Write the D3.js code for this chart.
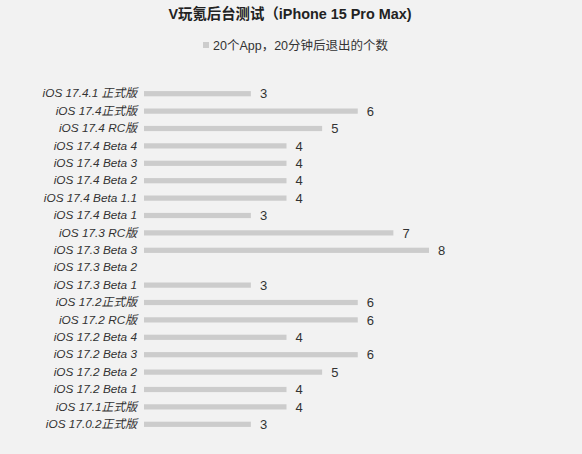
<!DOCTYPE html>
<html>
<head>
<meta charset="utf-8">
<script src="https://cdn.jsdelivr.net/npm/d3@7"></script>
<style>
  html, body { margin: 0; padding: 0; background: #f2f2f2; }
  svg { display: block; }
</style>
</head>
<body>
<svg id="chart"></svg>
<script>
// Chart data
var versions = [
  'iOS 17.4.1 正式版', 'iOS 17.4正式版', 'iOS 17.4 RC版', 'iOS 17.4 Beta 4',
  'iOS 17.4 Beta 3', 'iOS 17.4 Beta 2', 'iOS 17.4 Beta 1.1', 'iOS 17.4 Beta 1',
  'iOS 17.3 RC版', 'iOS 17.3 Beta 3', 'iOS 17.3 Beta 2', 'iOS 17.3 Beta 1',
  'iOS 17.2正式版', 'iOS 17.2 RC版', 'iOS 17.2 Beta 4', 'iOS 17.2 Beta 3',
  'iOS 17.2 Beta 2', 'iOS 17.2 Beta 1', 'iOS 17.1正式版', 'iOS 17.0.2正式版'
];
var killedApps = [3, 6, 5, 4, 4, 4, 4, 3, 7, 8, null, 3, 6, 6, 4, 6, 5, 4, 4, 3];
var title = 'V玩氪后台测试（iPhone 15 Pro Max)';
var legendLabel = '20个App，20分钟后退出的个数';

var width = 582, height = 454;
var font = '"Liberation Sans", "Noto Sans CJK SC", sans-serif';

var svg = d3.select('#chart')
  .attr('width', width)
  .attr('height', height)
  .style('font-family', font);

svg.append('rect')
  .attr('width', width).attr('height', height)
  .attr('fill', '#f2f2f2');

// Scales
var x = d3.scaleLinear().domain([0, 8]).range([144, 429]);
var y = d3.scaleBand()
  .domain(versions)
  .range([85, 433])
  .paddingInner(0.7)
  .paddingOuter(0.35);

// Title
svg.append('text')
  .attr('x', 290).attr('y', 19)
  .attr('text-anchor', 'middle')
  .attr('font-size', 14.4)
  .attr('font-weight', 'bold')
  .attr('fill', '#222')
  .text(title);

// Legend
svg.append('rect')
  .attr('x', 203).attr('y', 42)
  .attr('width', 6).attr('height', 6)
  .attr('fill', '#cccccc');
svg.append('text')
  .attr('x', 213).attr('y', 50)
  .attr('font-size', 12.5)
  .attr('fill', '#333')
  .text(legendLabel);

// Category axis (labels only)
var yAxis = svg.append('g')
  .attr('transform', 'translate(137,0)')
  .call(d3.axisLeft(y).tickSize(0).tickPadding(0));
yAxis.select('.domain').remove();
yAxis.selectAll('text')
  .attr('font-size', 11.8)
  .attr('font-style', 'italic')
  .attr('font-family', font)
  .attr('fill', '#333');

var rows = versions.map(function (v, i) { return {name: v, value: killedApps[i]}; })
  .filter(function (d) { return d.value != null; });

// Bars
svg.append('g').selectAll('rect')
  .data(rows)
  .enter().append('rect')
  .attr('x', x(0))
  .attr('y', function (d) { return y(d.name); })
  .attr('width', function (d) { return x(d.value) - x(0); })
  .attr('height', y.bandwidth())
  .attr('fill', '#cccccc');

// Value labels
svg.append('g').selectAll('text')
  .data(rows)
  .enter().append('text')
  .attr('x', function (d) { return x(d.value) + 9; })
  .attr('y', function (d) { return y(d.name) + y.bandwidth() / 2; })
  .attr('dy', '0.36em')
  .attr('font-size', 13)
  .attr('fill', '#333')
  .text(function (d) { return d.value; });
</script>
</body>
</html>
